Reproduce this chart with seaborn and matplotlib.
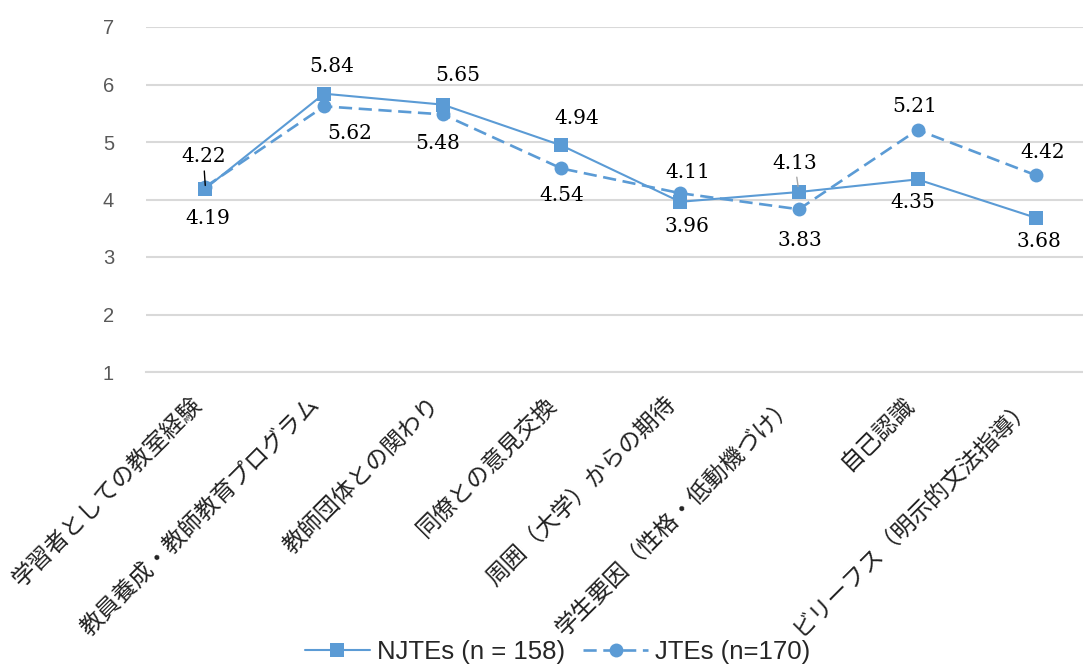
import matplotlib
matplotlib.use("Agg")
import matplotlib.pyplot as plt
import matplotlib.transforms as mtransforms
import numpy as np
import pandas as pd
import seaborn as sns

# Categories (sources of teacher beliefs)
categories = [
    "学習者としての教室経験",
    "教員養成・教師教育プログラム",
    "教師団体との関わり",
    "同僚との意見交換",
    "周囲（大学）からの期待",
    "学生要因（性格・低動機づけ）",
    "自己認識",
    "ビリーフス（明示的文法指導）",
]
njtes = [4.19, 5.84, 5.65, 4.94, 3.96, 4.13, 4.35, 3.68]
jtes = [4.22, 5.62, 5.48, 4.54, 4.11, 3.83, 5.21, 4.42]
series_names = ["NJTEs (n = 158)", "JTEs (n=170)"]
y_ticks = [1, 2, 3, 4, 5, 6, 7]

# Label offsets in pixels (dx, dy) relative to each point
njte_offsets = [(2, -30), (8, 27), (15, 29), (15, 27), (7, -25), (-4, 29), (-5, -23), (3, -24)]
jte_offsets = [(-2, 30), (26, -27), (-5, -29), (0, -27), (8, 21), (1, -31), (-3, 23), (6, 23)]

BLUE = "#5B9BD5"
GRID = "#D9D9D9"

sns.set_theme(style="white")
plt.rcParams["font.family"] = ["Liberation Sans", "DejaVu Sans"]

df = pd.DataFrame({
    "pos": list(range(len(categories))) * 2,
    "value": njtes + jtes,
    "group": [series_names[0]] * len(njtes) + [series_names[1]] * len(jtes),
})

fig = plt.figure(figsize=(10.83, 6.65), dpi=100)
ax = fig.add_axes([146 / 1083, 293 / 665, 949.6 / 1083, 345 / 665])

sns.lineplot(
    data=df, x="pos", y="value", style="group", hue="group",
    palette={series_names[0]: BLUE, series_names[1]: BLUE},
    markers={series_names[0]: "s", series_names[1]: "o"},
    dashes={series_names[0]: "", series_names[1]: (5, 2.5)},
    linewidth=1.5, markersize=10, markeredgewidth=0,
    ax=ax, legend=True,
)
for ln in ax.get_lines():
    ln.set_clip_on(False)
    if ln.get_linestyle() not in ("-", "solid"):
        ln.set_linewidth(1.9)

ax.set_xlim(-0.5, len(categories) - 0.5)
ax.set_ylim(1, 7)
ax.set_yticks(y_ticks)
ax.set_xlabel("")
ax.set_ylabel("")
ax.grid(axis="y", color=GRID, linewidth=1.5)
ax.set_axisbelow(True)
for side in ["top", "right", "left"]:
    ax.spines[side].set_visible(False)
ax.spines["bottom"].set_color(GRID)
ax.spines["bottom"].set_linewidth(1.5)

ax.tick_params(axis="y", length=0, pad=23, labelsize=14.5, labelcolor="#595959")
ax.tick_params(axis="x", length=0, pad=21)
ax.set_xticks(range(len(categories)))
ax.set_xticklabels(categories, rotation=45, ha="right", va="center",
                   rotation_mode="anchor", fontsize=16.8,
                   family=["Noto Sans CJK JP", "DejaVu Sans"], color="#222222")
shift = mtransforms.ScaledTranslation(-7 / 100, 0, fig.dpi_scale_trans)
for lab in ax.get_xticklabels():
    lab.set_transform(lab.get_transform() + shift)

# Value labels
label_font = dict(fontsize=14.5, family=["DejaVu Serif"], color="black",
                  ha="center", va="center")
for i, (v, off) in enumerate(zip(njtes, njte_offsets)):
    kw = {}
    if i == 5:
        kw["arrowprops"] = dict(arrowstyle="-", color="#A6A6A6", lw=1,
                                shrinkA=1, shrinkB=4)
    ax.annotate(f"{v:.2f}", (i, v), xytext=off, textcoords="offset pixels",
                annotation_clip=False, zorder=5, **label_font, **kw)
for i, (v, off) in enumerate(zip(jtes, jte_offsets)):
    kw = {}
    if i == 0:
        kw["arrowprops"] = dict(arrowstyle="-", color="black", lw=1,
                                shrinkA=1, shrinkB=1)
    ax.annotate(f"{v:.2f}", (i, v), xytext=off, textcoords="offset pixels",
                annotation_clip=False, zorder=5, **label_font, **kw)

handles, labels = ax.get_legend_handles_labels()
ax.get_legend().remove()
fig.legend(handles, labels, loc="center", bbox_to_anchor=(558 / 1083, 1 - 652 / 665),
           ncol=2, frameon=False, fontsize=18.5, handlelength=2.5,
           handletextpad=0.3, columnspacing=0.7, labelcolor="#262626")

fig.savefig("out.png", dpi=100)
